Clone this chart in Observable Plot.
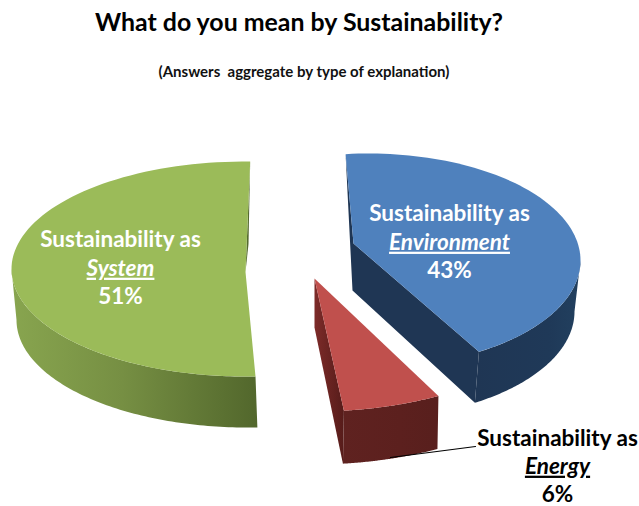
<!DOCTYPE html>
<html>
<head>
<meta charset="utf-8">
<script src="https://cdn.jsdelivr.net/npm/d3@7"></script>
<script src="https://cdn.jsdelivr.net/npm/@observablehq/plot@0.6"></script>
<style>
  html, body { margin: 0; padding: 0; background: #fff; }
  #page { position: relative; width: 639px; height: 506px; overflow: hidden; font-family: Lato, "Open Sans", sans-serif; font-weight: 700; color: #000; }
  #title { position: absolute; left: 0; width: 598px; top: 5px; text-align: center; font-size: 24.9px; line-height: 32px; }
  #subtitle { position: absolute; left: 0; width: 608px; top: 62px; text-align: center; font-size: 15px; line-height: 18px; white-space: pre; color: #111; }
  #chart { position: absolute; left: 0; top: 100px; }
  .under text { text-decoration: underline; }
</style>
</head>
<body>
<div id="page">
  <div id="title"></div>
  <div id="subtitle"></div>
  <div id="chart"></div>
</div>
<script>
// ---- data ----
const titleText = "What do you mean by Sustainability?";
const subtitleText = "(Answers  aggregate by type of explanation)";
const categories = ["Environment", "Energy", "System"];
const shares = [43, 6, 51];
const lead = "Sustainability as";

// ---- drawing set-up: how each wedge sits in the oblique view ----
const view = {
  Environment: {cx: 368, cy: 260, rx: 212, ry: 107, turn: -6.2, dx: -2, dy: 51, shrink: 4, nx: -15, ny: -17, ax: -16, ay: 30, top: "#4f81bd", wall: "url(#wallBlue)", cut: "#1f3654", from: 90},
  Energy:      {cx: 314, cy: 278, rx: 264, ry: 133, turn: -2.8, dx: -1, dy: 53, shrink: 0, nx: 0, ny: 0, ax: 0, ay: 49, top: "#c0504d", wall: "url(#wallRed)", cut: "url(#cutRed)", from: null},
  System:      {cx: 245, cy: 268.5, rx: 234, ry: 107.5, turn: 1.15, dx: 2, dy: 51, shrink: 3, nx: 0, ny: 3, ax: 3, ay: -25, top: "#9bbb59", wall: "url(#wallGreen)", cut: "#556b2f", to: 270}
};

const arcs = d3.pie().sort(null).value(d => d).startAngle(0).endAngle(2 * Math.PI)(shares);
const rad = Math.PI / 180;

function ellipsePoint(v, deg, lower) {
  const a = deg * rad;
  const rx = lower ? v.rx - v.shrink : v.rx;
  const cx = lower ? v.cx + v.dx : v.cx;
  const cy = lower ? v.cy + v.dy : v.cy;
  return {x: cx + rx * Math.sin(a), y: cy - v.ry * Math.cos(a)};
}
function sweep(a, b, n = 90) { return d3.range(n + 1).map(i => a + (b - a) * i / n); }

const faces = categories.map((name, i) => {
  const v = view[name];
  const a0 = arcs[i].startAngle / rad + v.turn;
  const a1 = arcs[i].endAngle / rad + v.turn;
  const apex = {x: v.cx + v.nx, y: v.cy + v.ny};
  const apexLow = {x: v.cx + v.ax, y: v.cy + v.ay};
  const top = [apex, ...sweep(a0, a1).map(d => ellipsePoint(v, d, false))];
  const wa = v.from != null ? v.from : a0;
  const wb = v.to != null ? v.to : a1;
  const rim = [...sweep(wa, wb).map(d => ellipsePoint(v, d, false)),
               ...sweep(wb, wa).map(d => ellipsePoint(v, d, true))];
  let cut;
  if (name === "Environment") {
    cut = [ellipsePoint(v, a0, false), apex, ellipsePoint(v, a1, false), ellipsePoint(v, a1, true), apexLow];
  } else if (name === "Energy") {
    cut = [apex, ellipsePoint(v, a1, false), ellipsePoint(v, a1, true), apexLow];
  } else {
    cut = [ellipsePoint(v, a1, false), apex, apexLow];
  }
  return {name, v, top, rim, cut};
});

const white = "#ffffff", black = "#000000";
const textSize = 22.5;
const labelRows = [
  {i: 0, x: 449, y: 213, kind: "lead", fill: white}, {i: 0, x: 449, y: 242, kind: "name", fill: white}, {i: 0, x: 449, y: 270, kind: "pct", fill: white},
  {i: 2, x: 120, y: 239, kind: "lead", fill: white}, {i: 2, x: 120, y: 268, kind: "name", fill: white}, {i: 2, x: 120, y: 296, kind: "pct", fill: white},
  {i: 1, x: 557, y: 438, kind: "lead", fill: black}, {i: 1, x: 557, y: 466, kind: "name", fill: black}, {i: 1, x: 557, y: 494, kind: "pct", fill: black}
].map(r => ({...r, text: r.kind === "lead" ? lead : r.kind === "name" ? categories[r.i] : shares[r.i] + "%"}));

const leader = [{x: 390, y: 457}, {x: 475, y: 446}];

function gradient(defs, id, stops) {
  const g = defs.append("linearGradient").attr("id", id).attr("x1", 0).attr("x2", 1).attr("y1", 0).attr("y2", 0);
  stops.forEach(([o, c]) => g.append("stop").attr("offset", o).attr("stop-color", c));
}
const defsMark = () => {
  const defs = d3.create("svg:defs");
  gradient(defs, "wallGreen", [[0, "#88a54f"], [0.45, "#768f43"], [1, "#52672c"]]);
  gradient(defs, "wallBlue", [[0, "#1f3654"], [0.7, "#1f3958"], [1, "#22405f"]]);
  gradient(defs, "wallRed", [[0, "#5f2220"], [0.6, "#5c201e"], [1, "#581f1d"]]);
  gradient(defs, "cutRed", [[0, "#7d2b29"], [1, "#561c1a"]]);
  return defs.node();
};

const poly = (pts, fill) => Plot.line(pts, {x: "x", y: "y", fill, stroke: "none", curve: "linear"});
const textBase = {x: "x", y: "y", text: "text", fill: "fill", fontSize: textSize, fontWeight: 700, fontFamily: "Lato, 'Open Sans', sans-serif", textAnchor: "middle", lineAnchor: "middle"};

const chart = Plot.plot({
  width: 639,
  height: 406,
  margin: 0,
  x: {domain: [0, 639], range: [0, 639], axis: null},
  y: {domain: [100, 506], range: [0, 406], axis: null},
  style: {background: "transparent"},
  marks: [
    defsMark,
    ...faces.flatMap(f => [poly(f.cut, f.v.cut), poly(f.rim, f.v.wall), poly(f.top, f.v.top)]),
    Plot.line(leader, {x: "x", y: "y", stroke: "#000", strokeWidth: 1.2}),
    Plot.text(labelRows.filter(d => d.kind !== "name"), textBase),
    Plot.text(labelRows.filter(d => d.kind === "name"), {...textBase, fontStyle: "italic", className: "under"})
  ]
});
document.getElementById("title").textContent = titleText;
document.getElementById("subtitle").textContent = subtitleText;
document.getElementById("chart").append(chart);
</script>
</body>
</html>
